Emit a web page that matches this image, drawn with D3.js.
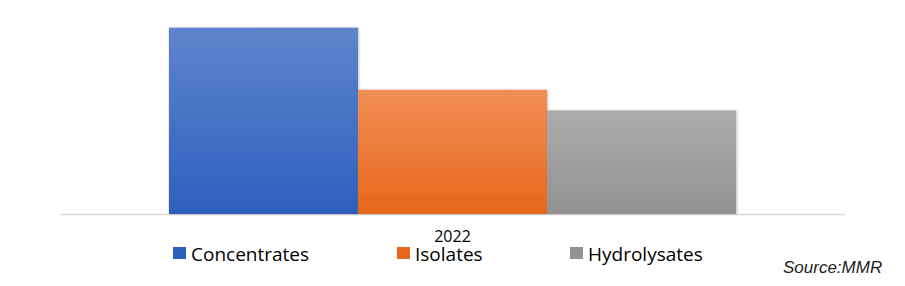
<!DOCTYPE html>
<html>
<head>
<meta charset="utf-8">
<title></title>
<style type="text/css">
    html, body { margin: 0; padding: 0; background: #fff; }
    svg { display: block; }
</style>
</head>
<body>
<svg id="svg" width="905" height="286"></svg>
<script src="https://cdnjs.cloudflare.com/ajax/libs/d3/7.8.5/d3.min.js"></script>
<script type="text/javascript">
    var years = ['2022'];
    var series = ['Concentrates', 'Isolates', 'Hydrolysates'];
    var values = [9, 6, 5];
    var colors = [['#5f84cc', '#2d5fbd'], ['#f18e55', '#e7661b'], ['#acacac', '#929292']];

    var svg = d3.select('#svg');
    var mLeft = 60, mRight = 845, mTop = 7, mBottom = 214;

    var x0 = d3.scaleBand().domain(years).range([mLeft, mRight]).paddingInner(0).paddingOuter(0.192);
    var x1 = d3.scaleBand().domain(series).range([0, x0.bandwidth()]);
    var y = d3.scaleLinear().domain([0, 10]).range([mBottom, mTop]);

    var defs = svg.append('defs');
    series.forEach(function (s, i) {
        var g = defs.append('linearGradient').attr('id', 'g' + i)
            .attr('x1', 0).attr('y1', 0).attr('x2', 0).attr('y2', 1);
        g.append('stop').attr('offset', '0%').attr('stop-color', colors[i][0]);
        g.append('stop').attr('offset', '100%').attr('stop-color', colors[i][1]);
    });
    var f = defs.append('filter').attr('id', 'sh').attr('x', '-5%').attr('y', '-5%').attr('width', '110%').attr('height', '110%');
    f.append('feDropShadow').attr('dx', 1).attr('dy', 0).attr('stdDeviation', 1.2).attr('flood-color', '#000').attr('flood-opacity', 0.25);

    var data = series.map(function (s, i) { return {name: s, value: values[i], i: i}; });

    // category axis
    var ax = svg.append('g').attr('transform', 'translate(0,' + mBottom + ')')
        .call(d3.axisBottom(x0).tickSize(0).tickPadding(17));
    ax.select('.domain').attr('stroke', '#d9d9d9').attr('stroke-width', 1.5);
    ax.selectAll('text').attr('font-family', '"Open Sans", "Noto Sans", sans-serif')
        .attr('font-size', 16).attr('fill', '#000');

    svg.append('g').selectAll('rect')
        .data(data)
        .enter()
        .append('rect')
        .attr('x', (d) => x0(years[0]) + x1(d.name))
        .attr('y', (d) => y(d.value))
        .attr('width', x1.bandwidth())
        .attr('height', (d) => y(0) - y(d.value))
        .attr('fill', (d) => 'url(#g' + d.i + ')')
        .attr('filter', 'url(#sh)');

    // legend
    var legX = [173, 397, 570];
    var leg = svg.append('g').selectAll('g')
        .data(data)
        .enter()
        .append('g')
        .attr('transform', (d) => 'translate(' + legX[d.i] + ',247)');
    leg.append('rect')
        .attr('width', 13).attr('height', 12)
        .attr('fill', (d) => colors[d.i][1]);
    leg.append('text')
        .text((d) => d.name)
        .attr('x', 18).attr('y', 14)
        .attr('font-family', '"Open Sans", "Noto Sans", sans-serif')
        .attr('font-size', 19).attr('fill', '#000');

    svg.append('text')
        .text('Source:MMR')
        .attr('x', 783).attr('y', 273)
        .attr('font-family', '"Liberation Sans", Arial, sans-serif')
        .attr('font-style', 'italic')
        .attr('font-size', 17).attr('fill', '#222');
</script>
</body>
</html>
